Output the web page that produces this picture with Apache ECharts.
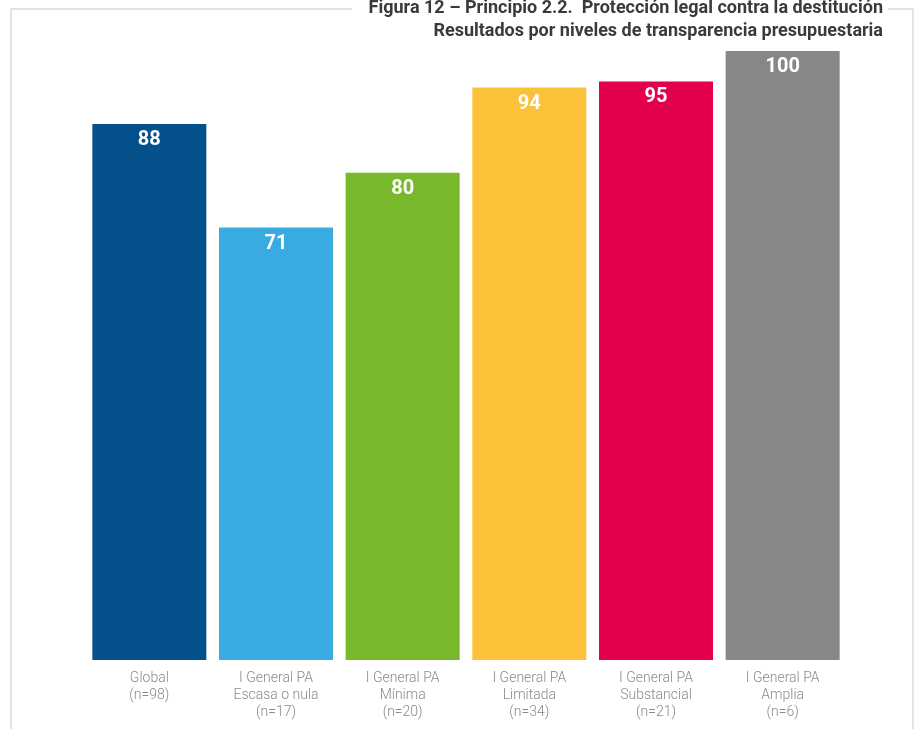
<!DOCTYPE html>
<html>
<head>
<meta charset="utf-8">
<style>
  html, body { margin: 0; padding: 0; background: #ffffff; }
  #chart { width: 920px; height: 729px; }
</style>
<script src="https://cdn.jsdelivr.net/npm/echarts@6/dist/echarts.min.js"></script>
</head>
<body>
<div id="chart"></div>
<script>
// Category labels (two or three lines each) and the score per group
const categories = [
  'Global\n(n=98)',
  'I General PA\nEscasa o nula\n(n=17)',
  'I General PA\nMínima\n(n=20)',
  'I General PA\nLimitada\n(n=34)',
  'I General PA\nSubstancial\n(n=21)',
  'I General PA\nAmplia\n(n=6)'
];
const values = [88, 71, 80, 94, 95, 100];
const barColors = ['#03508a', '#3aabe1', '#78b92c', '#fbc239', '#e4004f', '#878787'];
const titleLines = [
  'Figura 12 – Principio 2.2.  Protección legal contra la destitución',
  'Resultados por niveles de transparencia presupuestaria'
];

const chart = echarts.init(document.getElementById('chart'), null, { renderer: 'canvas' });

const frameStyle = { stroke: '#e4e4e4', lineWidth: 2 };
const titleFont = 'bold 18px Roboto';

chart.setOption({
  animation: false,
  backgroundColor: '#ffffff',
  grid: { left: 86, right: 74, top: 51, bottom: 69, containLabel: false },
  xAxis: {
    type: 'category',
    data: categories,
    axisLine: { show: false },
    axisTick: { show: false },
    axisLabel: {
      color: '#8a8a8a',
      fontFamily: 'Roboto',
      fontWeight: 300,
      fontSize: 14,
      lineHeight: 17,
      margin: 10,
      interval: 0
    }
  },
  yAxis: {
    type: 'value',
    min: 0,
    max: 100,
    show: false,
    splitLine: { show: false }
  },
  series: [{
    type: 'bar',
    data: values.map((v, i) => ({ value: v, itemStyle: { color: barColors[i] } })),
    barCategoryGap: '10%',
    label: {
      show: true,
      position: 'insideTop',
      distance: 6,
      color: '#ffffff',
      fontFamily: 'Roboto',
      fontWeight: 'bold',
      fontSize: 20
    }
  }],
  graphic: [
    { type: 'line', shape: { x1: 11, y1: 9, x2: 352, y2: 9 }, style: frameStyle, silent: true },
    { type: 'line', shape: { x1: 888, y1: 9, x2: 913, y2: 9 }, style: frameStyle, silent: true },
    { type: 'line', shape: { x1: 11, y1: 8, x2: 11, y2: 729 }, style: frameStyle, silent: true },
    { type: 'line', shape: { x1: 913, y1: 8, x2: 913, y2: 729 }, style: frameStyle, silent: true },
    {
      type: 'text',
      right: 37,
      top: -1,
      style: { text: titleLines[0], fill: '#3a3a3a', font: titleFont, align: 'right' },
      silent: true
    },
    {
      type: 'text',
      right: 37,
      top: 22,
      style: { text: titleLines[1], fill: '#3a3a3a', font: titleFont, align: 'right' },
      silent: true
    }
  ]
});
</script>
</body>
</html>
